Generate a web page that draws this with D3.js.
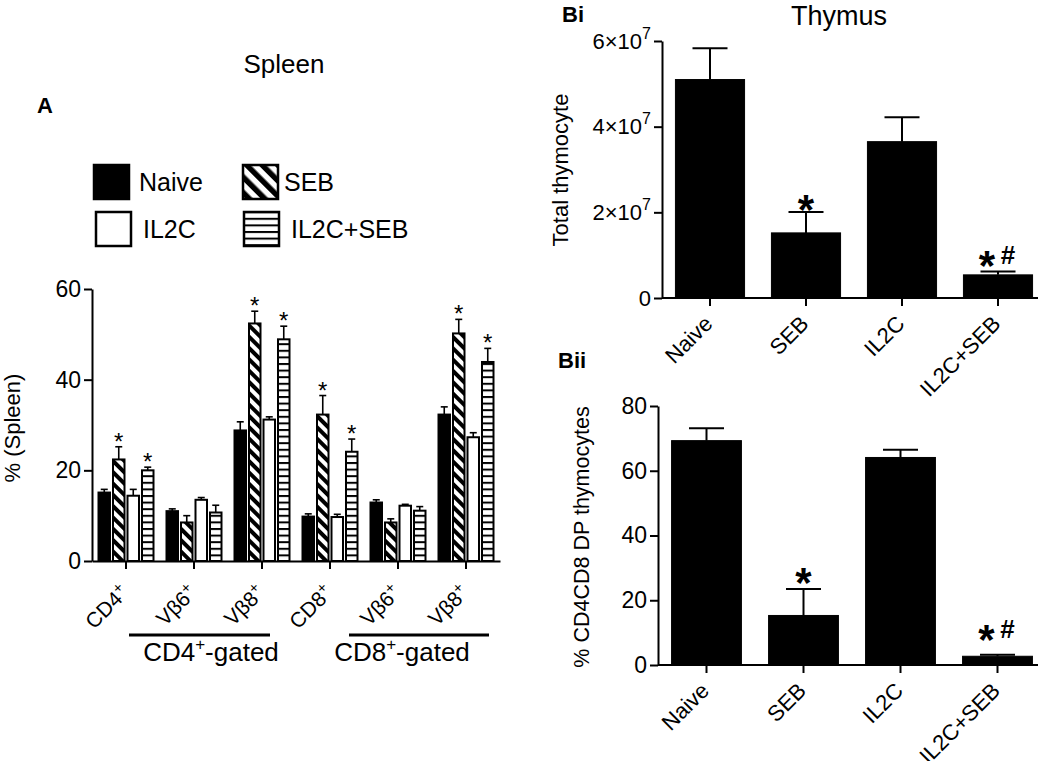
<!DOCTYPE html>
<html><head><meta charset="utf-8">
<script src="https://cdn.jsdelivr.net/npm/d3@7"></script>
<style>
body{margin:0;background:#fff}
svg{display:block}
text{font-family:"Liberation Sans",Arial,Helvetica,sans-serif;fill:#000}
</style>
</head><body>
<svg id="chart" width="1050" height="761"></svg>
<script>
// ---------------- DATA ----------------
// Panel A (Spleen)
const groupKeysA = ["g1","g2","g3","g4","g5","g6"];
const groupLabelsA = ["CD4","Vβ6","Vβ8","CD8","Vβ6","Vβ8"];
const seriesA = ["Naive","SEB","IL2C","IL2C+SEB"];
const naiveMeanA   = [15.1, 11.0, 28.8,  9.8, 12.9, 32.3];
const naiveErrA    = [0.7,  0.5,  1.9,  0.6,  0.6,  1.7];
const sebMeanA     = [22.4,  8.5, 52.4, 32.3,  8.5, 50.2];
const sebErrA      = [2.8,  1.5,  2.7,  4.2,  0.8,  3.1];
const il2cMeanA    = [14.4, 13.5, 31.2,  9.7, 12.2, 27.3];
const il2cErrA     = [1.4,  0.5,  0.6,  0.6,  0.3,  1.0];
const il2cSebMeanA = [20.0, 10.7, 48.9, 24.1, 11.1, 43.9];
const il2cSebErrA  = [0.7,  1.6,  2.9,  2.8,  0.9,  3.0];
const sebSigA      = ["*", "", "*", "*", "", "*"];
const il2cSebSigA  = ["*", "", "*", "*", "", "*"];
const yTicksA = [0, 20, 40, 60];
const gateLabelsA = ["CD4", "CD8"];

// Panel B (Thymus)
const categoriesB = ["Naive","SEB","IL2C","IL2C+SEB"];
const totalMeanB = [5.10e7, 1.52e7, 3.65e7, 0.54e7];
const totalErrB  = [0.73e7, 0.49e7, 0.57e7, 0.08e7];
const dpMeanB    = [69.3, 15.3, 64.1, 2.7];
const dpErrB     = [3.8,  8.2,  2.4,  0.5];
const sigB       = ["", "*", "", "*#"];
const yTicksBi  = [0, 2e7, 4e7, 6e7];
const yTicksBii = [0, 20, 40, 60, 80];

// ---------------- SETUP ----------------
const svg = d3.select("#chart");
const defs = svg.append("defs");
function diagPattern(id, size, stripe){
  const p = defs.append("pattern").attr("id", id)
    .attr("patternUnits","userSpaceOnUse").attr("width", size).attr("height", size)
    .attr("patternTransform","rotate(-45)");
  p.append("rect").attr("width", size).attr("height", size).attr("fill","#fff");
  p.append("rect").attr("width", stripe).attr("height", size).attr("fill","#000");
}
diagPattern("diag", 8, 4);
diagPattern("diagL", 11, 5.5);
function horizPattern(id, period, line){
  const p = defs.append("pattern").attr("id", id)
    .attr("patternUnits","userSpaceOnUse").attr("width", 10).attr("height", period);
  p.append("rect").attr("width", 10).attr("height", period).attr("fill","#fff");
  p.append("rect").attr("width", 10).attr("height", line).attr("fill","#000");
}
horizPattern("horiz", 6.6, 2);

const fillA  = {"Naive":"#000","SEB":"url(#diag)","IL2C":"#fff","IL2C+SEB":"url(#horiz)"};
const fillLg = {"Naive":"#000","SEB":"url(#diagL)","IL2C":"#fff","IL2C+SEB":"url(#horiz)"};

function styleAxis(g, fs){
  g.selectAll("path,line").attr("stroke","#000").attr("stroke-width",2);
  g.selectAll("text").style("font-size", fs + "px").attr("fill","#000")
   .style("font-family",'"Liberation Sans",Arial,sans-serif');
}

// ---------------- PANEL A ----------------
const meanA = {"Naive":naiveMeanA,"SEB":sebMeanA,"IL2C":il2cMeanA,"IL2C+SEB":il2cSebMeanA};
const errA  = {"Naive":naiveErrA,"SEB":sebErrA,"IL2C":il2cErrA,"IL2C+SEB":il2cSebErrA};
const sigA  = {"Naive":groupKeysA.map(()=>""),"SEB":sebSigA,"IL2C":groupKeysA.map(()=>""),"IL2C+SEB":il2cSebSigA};
const rowsA = [];
groupKeysA.forEach((g,i)=>seriesA.forEach(s=>rowsA.push({g, s, v:meanA[s][i], e:errA[s][i], sig:sigA[s][i]})));

const yA = d3.scaleLinear().domain([0,60]).range([561,289]);
const xA = d3.scaleBand().domain(groupKeysA).range([92,500]).padding(0);
const xInA = d3.scaleBand().domain(seriesA).range([6.5,61.5]).paddingInner(0.207);

const gA = svg.append("g");
gA.selectAll("rect.bar").data(rowsA).join("rect").attr("class","bar")
  .attr("x", d=>xA(d.g)+xInA(d.s))
  .attr("y", d=>yA(d.v))
  .attr("width", xInA.bandwidth())
  .attr("height", d=>yA(0)-yA(d.v))
  .attr("fill", d=>fillA[d.s]).attr("stroke","#000").attr("stroke-width",2);
const ebA = gA.selectAll("g.eb").data(rowsA).join("g").attr("class","eb");
ebA.append("line")
  .attr("x1", d=>xA(d.g)+xInA(d.s)+xInA.bandwidth()/2).attr("x2", d=>xA(d.g)+xInA(d.s)+xInA.bandwidth()/2)
  .attr("y1", d=>yA(d.v)).attr("y2", d=>yA(d.v+d.e))
  .attr("stroke","#000").attr("stroke-width",1.6);
ebA.append("line")
  .attr("x1", d=>xA(d.g)+xInA(d.s)+xInA.bandwidth()/2-3.5).attr("x2", d=>xA(d.g)+xInA(d.s)+xInA.bandwidth()/2+3.5)
  .attr("y1", d=>yA(d.v+d.e)).attr("y2", d=>yA(d.v+d.e))
  .attr("stroke","#000").attr("stroke-width",1.6);
gA.selectAll("text.sig").data(rowsA.filter(d=>d.sig)).join("text").attr("class","sig")
  .attr("x", d=>xA(d.g)+xInA(d.s)+xInA.bandwidth()/2)
  .attr("y", d=>yA(d.v+d.e)+3)
  .attr("text-anchor","middle").style("font-size","24px").text(d=>d.sig);
const axYA = gA.append("g").attr("transform","translate(92,0)")
  .call(d3.axisLeft(yA).tickValues(yTicksA).tickSize(8).tickSizeOuter(0).tickPadding(3));
styleAxis(axYA, 23);
const axXA = gA.append("g").attr("transform","translate(0,561)")
  .call(d3.axisBottom(xA).tickSize(8).tickSizeOuter(0).tickFormat(""));
styleAxis(axXA, 20);
const xlA = gA.selectAll("text.xl").data(groupKeysA).join("text").attr("class","xl")
  .attr("text-anchor","end")
  .attr("transform", d=>`translate(${xA(d)+xA.bandwidth()/2+4},${561+33}) rotate(-45)`)
  .style("font-size","21px");
xlA.append("tspan").text((d,i)=>groupLabelsA[i]);
xlA.append("tspan").attr("dy",-8).style("font-size","15px").text("+");
const gates = [
  {label: gateLabelsA[0], x1: xA("g2")+xA.bandwidth()/2-65, x2: xA("g3")+xA.bandwidth()/2+8, tx: xA("g2")+xA.bandwidth()/2+17},
  {label: gateLabelsA[1], x1: xA("g5")+xA.bandwidth()/2-49, x2: xA("g6")+xA.bandwidth()/2+23, tx: xA("g5")+xA.bandwidth()/2+4}
];
gates.forEach(gt=>{
  gA.append("line").attr("x1",gt.x1).attr("x2",gt.x2).attr("y1",635).attr("y2",635)
    .attr("stroke","#000").attr("stroke-width",3);
  const t = gA.append("text").attr("x",gt.tx).attr("y",661).attr("text-anchor","middle").style("font-size","26px");
  t.append("tspan").text(gt.label);
  t.append("tspan").attr("dy",-11).style("font-size","17px").text("+");
  t.append("tspan").attr("dy",11).text("-gated");
});
gA.append("text").attr("transform","translate(20,428) rotate(-90)").attr("text-anchor","middle")
  .style("font-size","22px").text("% (Spleen)");
svg.append("text").attr("x",284).attr("y",73).attr("text-anchor","middle").style("font-size","26px").text("Spleen");
svg.append("text").attr("x",37).attr("y",113).style("font-size","22px").style("font-weight","bold").text("A");
const legendPos = [[94,165,139],[243,165,284],[96,212,143],[244,212,291]];
seriesA.forEach((s,i)=>{
  const [lx,ly,tx] = legendPos[i];
  svg.append("rect").attr("x",lx).attr("y",ly).attr("width",35).attr("height",34)
    .attr("fill",fillLg[s]).attr("stroke","#000").attr("stroke-width",2.5);
  svg.append("text").attr("x",tx).attr("y",ly+26).style("font-size","25px").text(s);
});

// ---------------- PANEL B ----------------
function panelB(opt){
  const g = svg.append("g");
  const y = d3.scaleLinear().domain(opt.domain).range([opt.y0, opt.y1]);
  const x = d3.scaleBand().domain(categoriesB).range([opt.x0, 1046]).paddingInner(0.28).paddingOuter(0.14);
  const rows = categoriesB.map((c,i)=>({c, v:opt.mean[i], e:opt.err[i], sig:sigB[i]}));
  g.selectAll("rect").data(rows).join("rect")
    .attr("x", d=>x(d.c)).attr("y", d=>y(d.v)).attr("width", x.bandwidth()).attr("height", d=>y(0)-y(d.v))
    .attr("fill","#000").attr("stroke","#000").attr("stroke-width",1);
  const cx = d=>x(d.c)+x.bandwidth()/2;
  g.selectAll("line.ev").data(rows).join("line").attr("class","ev")
    .attr("x1",cx).attr("x2",cx).attr("y1",d=>y(d.v)).attr("y2",d=>y(d.v+d.e))
    .attr("stroke","#000").attr("stroke-width",2);
  g.selectAll("line.ec").data(rows).join("line").attr("class","ec")
    .attr("x1",d=>cx(d)-17.5).attr("x2",d=>cx(d)+17.5).attr("y1",d=>y(d.v+d.e)).attr("y2",d=>y(d.v+d.e))
    .attr("stroke","#000").attr("stroke-width",2);
  rows.filter(d=>d.sig).forEach(d=>{
    const top = y(d.v+d.e);
    if (d.sig === "*") {
      g.append("text").attr("x",cx(d)).attr("y",top - opt.gap1 + 17).attr("text-anchor","middle")
        .style("font-size","42px").style("font-weight","bold").text("*");
    } else {
      g.append("text").attr("x",cx(d)-11).attr("y",top - opt.gap2 + 17).attr("text-anchor","middle")
        .style("font-size","42px").style("font-weight","bold").text("*");
      g.append("text").attr("x",cx(d)+10).attr("y",top - opt.gap2 + 1).attr("text-anchor","middle")
        .style("font-size","26px").style("font-weight","bold").text("#");
    }
  });
  const ay = g.append("g").attr("transform",`translate(${opt.x0},0)`)
    .call(d3.axisLeft(y).tickValues(opt.ticks).tickSize(8).tickSizeOuter(0).tickPadding(3));
  styleAxis(ay, 23);
  if (opt.sci) {
    ay.selectAll(".tick text").each(function(v){
      const t = d3.select(this);
      if (v === 0) return;
      t.text(null);
      t.append("tspan").text((v/1e7) + "×10");
      t.append("tspan").attr("dy",-10).style("font-size","16px").text("7");
    });
    ay.selectAll(".tick text").style("font-size","22px");
  }
  const ax = g.append("g").attr("transform",`translate(0,${opt.y0})`)
    .call(d3.axisBottom(x).tickSize(8).tickSizeOuter(0).tickFormat(""));
  ax.select("path.domain").remove();
  styleAxis(ax, 20);
  g.append("line").attr("x1",opt.x0).attr("x2",1038).attr("y1",opt.y0).attr("y2",opt.y0)
    .attr("stroke","#000").attr("stroke-width",2);
  g.selectAll("text.xl").data(categoriesB).join("text").attr("class","xl")
    .attr("text-anchor","end")
    .attr("transform", d=>`translate(${x(d)+x.bandwidth()/2+4},${opt.y0+27}) rotate(-45)`)
    .style("font-size","22px").text(d=>d);
  g.append("text").attr("transform",`translate(${opt.titleX},${opt.titleY}) rotate(-90)`)
    .attr("text-anchor","middle").style("font-size", opt.titleSize+"px").text(opt.title);
}
panelB({domain:[0,6e7], y0:298, y1:41, x0:662, mean:totalMeanB, err:totalErrB, ticks:yTicksBi, sci:true,
        gap1:5, gap2:8, title:"Total thymocyte", titleX:568, titleY:170, titleSize:22});
panelB({domain:[0,80], y0:665, y1:406, x0:658, mean:dpMeanB, err:dpErrB, ticks:yTicksBii, sci:false,
        gap1:9, gap2:18, title:"% CD4CD8 DP thymocytes", titleX:589, titleY:537, titleSize:21.5});
svg.append("text").attr("x",562).attr("y",22).style("font-size","22px").style("font-weight","bold").text("Bi");
svg.append("text").attr("x",558).attr("y",368).style("font-size","22px").style("font-weight","bold").text("Bii");
svg.append("text").attr("x",839).attr("y",25).attr("text-anchor","middle").style("font-size","27px").text("Thymus");
</script>
</body></html>
